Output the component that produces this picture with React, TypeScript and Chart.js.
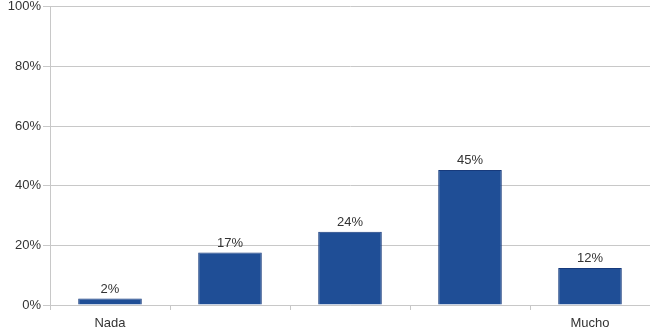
import React, { useEffect, useRef } from "react";
import { Chart, registerables } from "chart.js";

Chart.register(...registerables);

const categories = ["Nada", "", "", "", "Mucho"];
const values = [2.2, 17.6, 24.6, 45.3, 12.4];
const valueLabels = ["2%", "17%", "24%", "45%", "12%"];
const yTicks = [0, 20, 40, 60, 80, 100];

const barLabelPlugin = {
  id: "barLabels",
  afterDatasetsDraw(chart: any) {
    const ctx = chart.ctx;
    const meta = chart.getDatasetMeta(0);
    ctx.save();
    ctx.font = "13px 'Liberation Sans', Arial, sans-serif";
    ctx.fillStyle = "#333333";
    ctx.textAlign = "center";
    ctx.textBaseline = "bottom";
    meta.data.forEach((bar: any, i: number) => {
      ctx.fillText(valueLabels[i], bar.x, bar.y - 3);
    });
    ctx.restore();
  },
};

export default function App() {
  const ref = useRef<HTMLCanvasElement>(null);
  useEffect(() => {
    document.body.style.margin = "0";
    const chart = new Chart(ref.current!, {
      type: "bar",
      data: {
        labels: categories,
        datasets: [
          {
            data: values,
            backgroundColor: "#1f4e96",
            borderColor: "#173a7c",
            borderWidth: 1,
            barPercentage: 0.53,
            categoryPercentage: 1,
          },
        ],
      },
      options: {
        animation: false,
        responsive: false,
        layout: { padding: { top: 0, right: 0, left: 0, bottom: 0 } },
        plugins: { legend: { display: false }, tooltip: { enabled: false } },
        scales: {
          x: {
            grid: { color: "#c8c8c8", offset: true, tickLength: 5, drawOnChartArea: false },
            border: { color: "#c8c8c8" },
            ticks: {
              color: "#333333",
              font: { size: 13, family: "'Liberation Sans', Arial, sans-serif" },
              padding: 6,
            },
            afterFit: (s: any) => {
              s.height = 26;
            },
          },
          y: {
            min: 0,
            max: 100,
            afterBuildTicks: (s: any) => {
              s.ticks = yTicks.map((v) => ({ value: v }));
            },
            grid: { color: "#c8c8c8", tickLength: 7 },
            border: { color: "#c8c8c8" },
            ticks: {
              color: "#333333",
              font: { size: 13, family: "'Liberation Sans', Arial, sans-serif" },
              padding: 2,
              callback: (v: any) => v + "%",
            },
            afterFit: (s: any) => {
              s.width = 50;
            },
          },
        },
      },
      plugins: [barLabelPlugin],
    });
    return () => chart.destroy();
  }, []);
  return (
    <div style={{ position: "absolute", left: 0, top: -3, width: 650, height: 334 }}>
      <canvas ref={ref} width={650} height={334} />
    </div>
  );
}
